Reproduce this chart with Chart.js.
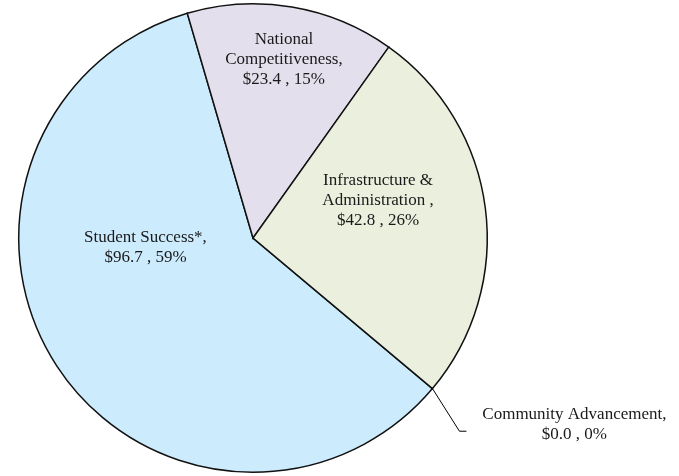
<!DOCTYPE html>
<html>
<head>
<meta charset="utf-8">
<script src="https://cdn.jsdelivr.net/npm/chart.js@4.4.1/dist/chart.umd.min.js"></script>
<style>
  html, body { margin: 0; padding: 0; background: #fff; }
  #wrap { width: 679px; height: 476px; }
</style>
</head>
<body>
<div id="wrap"><canvas id="budgetPie" width="679" height="476"></canvas></div>
<script>
// budget categories ($M) and the percentages shown on the labels
const categories = ["Student Success*", "National Competitiveness", "Infrastructure & Administration", "Community Advancement"];
const amounts = [96.7, 23.4, 42.8, 0.0];
const percentLabels = ["59%", "15%", "26%", "0%"];
const labelLines = [
  ["Student Success*,", "$96.7 , 59%"],
  ["National", "Competitiveness,", "$23.4 , 15%"],
  ["Infrastructure &", "Administration ,", "$42.8 , 26%"],
  ["Community Advancement,", "$0.0 , 0%"]
];
const sliceColors = ["#CCEBFD", "#E4DFEC", "#EBF0DE", "#F2DCDB"];

// where each label sits, as an offset from the pie centre in radius units
const labelSpots = [
  { dx: -0.459, dy: 0.04 },
  { dx: 0.132, dy: -0.76 },
  { dx: 0.534, dy: -0.162 },
  { dx: 1.372, dy: 0.795 }
];

const sliceLabels = {
  id: "sliceLabels",
  afterDatasetsDraw(chart) {
    const ctx = chart.ctx;
    const arcs = chart.getDatasetMeta(0).data;
    ctx.save();
    ctx.font = "17px 'Liberation Serif', 'Times New Roman', serif";
    ctx.fillStyle = "#1a1a1a";
    ctx.textAlign = "center";
    ctx.textBaseline = "middle";
    const lineH = 20;
    arcs.forEach((arc, i) => {
      const r = arc.outerRadius;
      const cx = arc.x + labelSpots[i].dx * r;
      const cy = arc.y + labelSpots[i].dy * r;
      const lines = labelLines[i];
      const top = cy - (lines.length - 1) * lineH / 2;
      lines.forEach((t, k) => ctx.fillText(t, cx, top + k * lineH));

      // leader line for the empty slice
      if (amounts[i] === 0) {
        const a = arc.startAngle;
        const ex = arc.x + Math.cos(a) * r;
        const ey = arc.y + Math.sin(a) * r;
        const ky = top + lineH * 0.85;
        ctx.strokeStyle = "#000";
        ctx.lineWidth = 1;
        ctx.beginPath();
        ctx.moveTo(ex, ey);
        ctx.lineTo(ex + 27, ky);
        ctx.lineTo(ex + 34, ky);
        ctx.stroke();
      }
    });
    ctx.restore();
  }
};

new Chart(document.getElementById("budgetPie"), {
  type: "pie",
  data: {
    labels: categories,
    datasets: [{
      data: amounts,
      backgroundColor: sliceColors,
      borderColor: "#111",
      borderWidth: 1.5,
      borderJoinStyle: "miter"
    }]
  },
  options: {
    responsive: false,
    animation: false,
    rotation: 130,
    layout: { padding: { left: 18, right: 191, top: 3, bottom: 3 } },
    plugins: {
      legend: { display: false },
      tooltip: { enabled: false }
    }
  },
  plugins: [sliceLabels]
});
</script>
</body>
</html>
